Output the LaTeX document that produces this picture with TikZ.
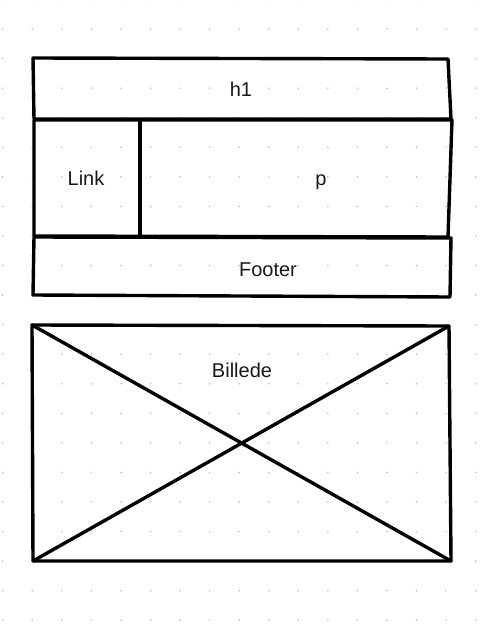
\documentclass[tikz,border=0pt]{standalone}
\usepackage{fontspec}
\setmainfont{Liberation Sans}
\begin{document}
\begin{tikzpicture}[x=1pt,y=-1pt,
  sketch/.style={line width=3.4pt,line join=round,line cap=round,draw=black},
  lbl/.style={font=\fontsize{20}{24}\selectfont,anchor=base,inner sep=0pt,text=black!90},
  gdot/.style={fill=black!28}]
\useasboundingbox (0,0) rectangle (500,624);
\fill[white] (0,0) rectangle (500,624);
% dot grid
\foreach \i in {0,...,16}{
  \foreach \j in {0,...,21}{
    \fill[gdot] ({2.7+29.56*\i},{-0.5+29.56*\j}) circle (0.85);
  }
}
% h1 box
\draw[sketch] (33,58) -- (448,59) -- (451,119) -- (34,119) -- cycle;
% middle row
\draw[sketch] (34,120) -- (452,120) -- (448,237) -- (34,236) -- cycle;
\draw[sketch,line width=3.8pt] (140,121) -- (140,236);
% footer
\draw[sketch] (34,237) -- (451,238) -- (450,297) -- (33,295) -- cycle;
% image box
\coordinate (tl) at (32,325);
\coordinate (tr) at (449,326);
\coordinate (br) at (451,561);
\coordinate (bl) at (33,561);
\draw[sketch] (tl) -- (tr) -- (br) -- (bl) -- cycle;
\draw[sketch] (tl) -- (br);
\draw[sketch] (tr) -- (bl);
% labels
\node[lbl] (h1) at (241,96) {h1};
\node[lbl] (link) at (86,185) {Link};
\node[lbl] (p) at (321,185) {p};
\node[lbl] (footer) at (268,276) {Footer};
\node[lbl] (billede) at (242,377) {Billede};
\end{tikzpicture}
\end{document}
